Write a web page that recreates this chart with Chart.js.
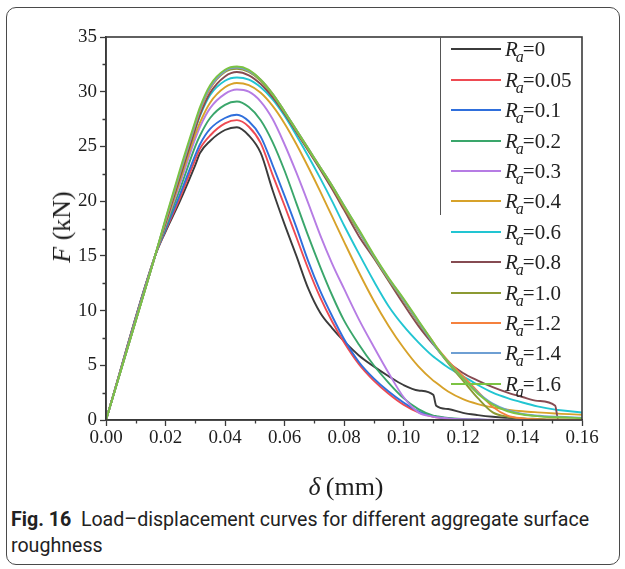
<!DOCTYPE html>
<html><head><meta charset="utf-8">
<script src="https://cdn.jsdelivr.net/npm/chart.js@4.4.0/dist/chart.umd.min.js"></script>
<style>
html,body{margin:0;padding:0;background:#fff;}
body{width:625px;height:569px;position:relative;overflow:hidden;}
#frame{position:absolute;left:6px;top:7px;width:614px;height:558px;border:1px solid #4a4a4a;border-radius:10px;box-sizing:border-box;}
#wrap{position:absolute;left:0;top:0;width:625px;height:505px;}
#legend{position:absolute;left:440px;top:37px;width:142px;height:362px;}
#legline{position:absolute;left:440px;top:37px;width:1px;height:178px;background:#555;}
.row{position:absolute;left:0;width:142px;height:26px;}
.swatch{position:absolute;left:11px;top:12px;width:50px;height:2px;}
.lab{position:absolute;left:65px;top:0;font-family:"Liberation Serif",serif;font-size:21px;line-height:26px;white-space:nowrap;color:#222;}
.lab sub{font-size:16px;vertical-align:-6px;margin-left:-2px;margin-right:-1px;}
.axt{position:absolute;font-family:"Liberation Serif",serif;font-size:26px;color:#1e1e1e;white-space:nowrap;}
#caption{position:absolute;left:11px;top:507px;width:608px;font-family:Roboto,sans-serif;font-size:19.6px;line-height:26px;color:#222;}
</style></head>
<body>
<div id="frame"></div>
<div id="wrap"><canvas id="c" width="625" height="505"></canvas></div>
<div id="legline"></div>
<div id="legend"></div>
<div class="axt" id="ytitle" style="left:62px;top:227px;transform:translate(-50%,-50%) rotate(-90deg);"><i>F</i> (kN)</div>
<div class="axt" id="xtitle" style="left:346px;top:487px;transform:translate(-50%,-50%);"><i>δ</i>&#8201;(mm)</div>
<div id="caption"><b>Fig. 16</b>&nbsp; Load–displacement curves for different aggregate surface roughness</div>
<script>
// displacement δ (mm), shared by all curves
const disp = [0, 0.0165, 0.020, 0.025, 0.030, 0.0316, 0.035, 0.040, 0.044, 0.048, 0.052, 0.056, 0.060, 0.064, 0.068, 0.072, 0.076, 0.080, 0.085, 0.090, 0.095, 0.100, 0.105, 0.110, 0.111, 0.115, 0.120, 0.125, 0.130, 0.135, 0.140, 0.145, 0.151, 0.152, 0.160];

// roughness labels
const roughness = ["0", "0.05", "0.1", "0.2", "0.3", "0.4", "0.6", "0.8", "1.0", "1.2", "1.4", "1.6"];

// load F (kN) for each roughness
const F_0   = [0, 15, 17.2, 20.1, 23.3, 24.4, 25.5, 26.5, 26.75, 26.0, 24.4, 21.0, 17.9, 15.0, 12.0, 9.8, 8.4, 7.2, 5.9, 4.9, 4.0, 3.2, 2.7, 2.3, 1.3, 1.0, 0.65, 0.45, 0.3, 0.2, 0.12, 0.06, 0, 0, 0];
const F_005 = [0, 15, 17.3, 20.4, 23.8, 24.8, 26.0, 27.1, 27.4, 26.8, 25.3, 22.4, 19.6, 16.7, 13.8, 11.2, 9.0, 7.1, 5.1, 3.6, 2.4, 1.4, 0.7, 0.3, 0.25, 0.12, 0.05, 0.02, 0, 0, 0, 0, 0, 0, 0];
const F_01  = [0, 15, 17.4, 20.7, 24.2, 25.2, 26.6, 27.6, 27.9, 27.3, 25.9, 23.3, 20.5, 17.6, 14.5, 11.8, 9.5, 7.4, 5.3, 3.8, 2.6, 1.6, 0.8, 0.35, 0.3, 0.15, 0.06, 0.02, 0, 0, 0, 0, 0, 0, 0];
const F_02  = [0, 15, 17.6, 21.2, 25.0, 26.0, 27.6, 28.8, 29.1, 28.6, 27.4, 25.4, 22.8, 19.8, 16.8, 14.0, 11.4, 9.1, 6.9, 5.0, 3.4, 2.0, 1.0, 0.4, 0.35, 0.18, 0.08, 0.03, 0, 0, 0, 0, 0, 0, 0];
const F_03  = [0, 15, 17.8, 21.7, 25.7, 26.8, 28.5, 29.8, 30.2, 30.0, 29.1, 27.5, 25.2, 22.6, 19.8, 16.9, 14.3, 12.0, 9.2, 6.7, 4.3, 2.1, 0.7, 0.3, 0.25, 0.15, 0.08, 0.04, 0.02, 0, 0, 0, 0, 0, 0];
const F_04  = [0, 15, 17.9, 22.0, 26.1, 27.2, 29.0, 30.4, 30.8, 30.6, 29.9, 28.7, 27.1, 25.2, 23.1, 20.9, 18.6, 16.3, 13.5, 10.9, 8.6, 6.6, 4.9, 3.6, 3.4, 2.6, 1.9, 1.45, 1.15, 0.95, 0.8, 0.7, 0.6, 0.58, 0.48];
const F_06  = [0, 15, 18.1, 22.4, 26.6, 27.8, 29.7, 31.0, 31.3, 31.1, 30.4, 29.3, 27.8, 26.0, 24.1, 22.1, 20.0, 17.8, 15.2, 12.7, 10.4, 8.6, 7.1, 5.8, 5.6, 4.8, 4.0, 3.2, 2.5, 2.0, 1.6, 1.25, 0.95, 0.92, 0.68];
const F_08  = [0, 15, 18.0, 22.3, 26.6, 27.9, 29.9, 31.4, 31.8, 31.5, 30.7, 29.5, 28.0, 26.3, 24.6, 22.9, 21.1, 19.2, 16.8, 14.8, 12.7, 10.6, 8.6, 6.9, 6.6, 5.3, 4.3, 3.6, 3.0, 2.5, 2.1, 1.75, 1.3, 0, 0];
const F_10  = [0, 15, 18.2, 22.6, 27.0, 28.3, 30.3, 31.8, 32.1, 31.8, 31.0, 29.7, 28.1, 26.4, 24.7, 23.0, 21.3, 19.4, 17.2, 14.9, 12.8, 10.9, 8.9, 7.0, 6.6, 5.2, 3.6, 2.0, 0.7, 0.3, 0.15, 0.1, 0.05, 0.05, 0.03];
const F_12  = [0, 15, 18.2, 22.7, 27.0, 28.3, 30.3, 31.9, 32.2, 31.9, 31.1, 29.8, 28.2, 26.5, 24.8, 23.1, 21.4, 19.5, 17.3, 15.0, 12.9, 11.0, 9.0, 7.1, 6.7, 5.4, 4.0, 2.6, 1.2, 0.4, 0.15, 0.06, 0.03, 0.03, 0.02];
const F_14  = [0, 15, 18.3, 22.8, 27.1, 28.4, 30.4, 31.9, 32.2, 31.9, 31.1, 29.8, 28.2, 26.5, 24.8, 23.1, 21.4, 19.6, 17.3, 15.0, 12.9, 11.0, 9.0, 7.0, 6.6, 5.3, 3.8, 2.5, 1.5, 0.9, 0.55, 0.4, 0.3, 0.3, 0.2];
const F_16  = [0, 15, 18.4, 23.0, 27.3, 28.6, 30.6, 32.0, 32.3, 32.0, 31.1, 29.8, 28.2, 26.5, 24.8, 23.1, 21.4, 19.6, 17.4, 15.1, 13.0, 11.1, 9.1, 7.1, 6.7, 5.3, 3.8, 2.4, 1.4, 0.8, 0.5, 0.35, 0.25, 0.25, 0.15];

const series = [F_0, F_005, F_01, F_02, F_03, F_04, F_06, F_08, F_10, F_12, F_14, F_16];
const colors = ["#3b3b3b", "#ee4a52", "#2f6fdc", "#3aa66b", "#b67ce4", "#d7a22a", "#22c5d2", "#864b52", "#8c9a33", "#f5813e", "#6e9fd3", "#7cc343"];

// axis tick ranges
const xMin = 0, xMax = 0.16, xStep = 0.02, xMinor = 0.01;
const yMin = 0, yMax = 35, yStep = 5, yMinor = 2.5;

const datasets = series.map((F, i) => ({
  label: "Ra=" + roughness[i],
  data: disp.map((d, k) => ({x: d, y: F[k]})),
  borderColor: colors[i],
  backgroundColor: colors[i],
  borderWidth: 1.9,
  pointRadius: 0,
  cubicInterpolationMode: 'monotone',
  order: series.length - i
}));

const framePlugin = {
  id: 'frame',
  afterDatasetsDraw(chart) {
    const {ctx, chartArea: a, scales} = chart;
    ctx.save();
    ctx.strokeStyle = '#3a3a3a';
    ctx.lineWidth = 1.6;
    ctx.strokeRect(a.left, a.top, a.right - a.left, a.bottom - a.top);
    // minor ticks
    ctx.lineWidth = 1.3;
    ctx.beginPath();
    for (let v = xMin + xMinor; v < xMax; v += xStep) {
      const px = Math.round(scales.x.getPixelForValue(v)) + 0.5;
      ctx.moveTo(px, a.bottom); ctx.lineTo(px, a.bottom + 3.5);
    }
    for (let v = yMin + yMinor; v < yMax; v += yStep) {
      const py = Math.round(scales.y.getPixelForValue(v)) + 0.5;
      ctx.moveTo(a.left, py); ctx.lineTo(a.left - 3.5, py);
    }
    ctx.stroke();
    ctx.restore();
  }
};

const tickFont = {family: "'Liberation Serif', serif", size: 19};

new Chart(document.getElementById('c'), {
  type: 'line',
  data: {datasets},
  options: {
    responsive: false,
    animation: false,
    layout: {padding: {left: 0, top: 37, right: 43, bottom: 0}},
    plugins: {legend: {display: false}, tooltip: {enabled: false}},
    scales: {
      x: {
        type: 'linear', min: xMin, max: xMax,
        ticks: {stepSize: xStep, font: tickFont, color: '#1e1e1e', padding: 1,
                callback: v => Number(v).toFixed(2), maxRotation: 0},
        grid: {drawOnChartArea: false, drawTicks: true, tickLength: 6, color: '#3a3a3a', tickWidth: 1.3},
        border: {display: true, color: '#3a3a3a', width: 1.6},
        afterFit: s => { s.height = 505 - 420; }
      },
      y: {
        type: 'linear', min: yMin, max: yMax,
        ticks: {stepSize: yStep, font: tickFont, color: '#1e1e1e', padding: 3},
        grid: {drawOnChartArea: false, drawTicks: true, tickLength: 6, color: '#3a3a3a', tickWidth: 1.3},
        border: {display: true, color: '#3a3a3a', width: 1.6},
        afterFit: s => { s.width = 106; }
      }
    }
  },
  plugins: [framePlugin]
});

// HTML legend built from the series
const leg = document.getElementById('legend');
const rowCenters0 = 12.3, rowGap = 30.4;
roughness.forEach((r, i) => {
  const row = document.createElement('div');
  row.className = 'row';
  row.style.top = (rowCenters0 + i * rowGap - 13) + 'px';
  row.innerHTML = '<div class="swatch" style="background:' + colors[i] + '"></div>' +
    '<div class="lab"><i>R</i><sub><i>a</i></sub>=' + r + '</div>';
  leg.appendChild(row);
});
</script>
</body></html>
